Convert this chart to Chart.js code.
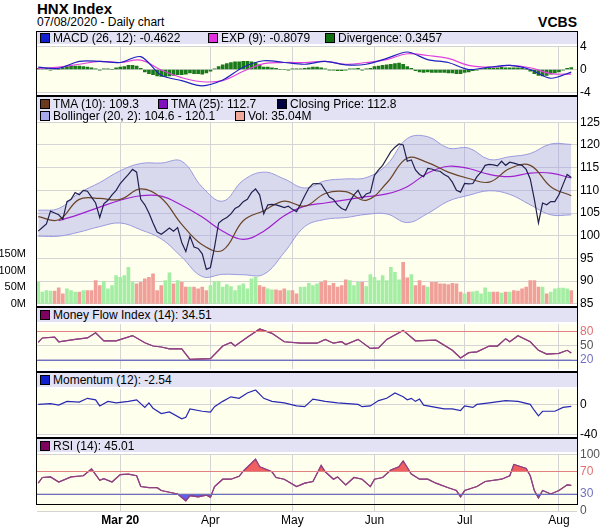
<!DOCTYPE html>
<html><head><meta charset="utf-8">
<script src="https://cdn.jsdelivr.net/npm/chart.js@4/dist/chart.umd.min.js"></script>
<style>
body{margin:0;background:#fff;font-family:"Liberation Sans",Arial,sans-serif;width:603px;height:531px;position:relative;overflow:hidden}
canvas{position:absolute;left:0}
.t{position:absolute;white-space:nowrap}
.strip{position:absolute;left:37px;width:540px;background:#e2e2f4;font-size:12px;color:#000;z-index:3}
.it{position:absolute;white-space:nowrap}
.sw{display:inline-block;width:8px;height:8px;border:1px solid #000;margin-right:3px;vertical-align:-1px}
.sep{position:absolute;left:37px;width:541px;height:2px;background:#000;z-index:4}
</style></head><body>
<div class="t" style="left:37px;top:0px;font-weight:bold;font-size:15px">HNX Index</div>
<div class="t" style="left:37px;top:15px;font-size:12px">07/08/2020 - Daily chart</div>
<div class="t" style="right:26px;top:14px;font-weight:bold;font-size:14px">VCBS</div>
<div id="box" style="position:absolute;left:36px;top:31px;width:540px;height:472px;border:1px solid #000;z-index:4;pointer-events:none"></div>
<div class="sep" style="top:95px"></div><div class="sep" style="top:306px"></div><div class="sep" style="top:371px"></div><div class="sep" style="top:437px"></div>
<div class="strip" style="top:32px;height:12px">
 <span class="it" style="left:3px;top:-1px"><span class="sw" style="background:#1020d0"></span>MACD (26, 12): -0.4622</span>
 <span class="it" style="left:171px;top:-1px"><span class="sw" style="background:#e030e0"></span>EXP (9): -0.8079</span>
 <span class="it" style="left:288px;top:-1px"><span class="sw" style="background:#107010"></span>Divergence: 0.3457</span>
</div>
<div class="strip" style="top:97px;height:23px">
 <span class="it" style="left:3px;top:0px"><span class="sw" style="background:#6b3a1e"></span>TMA (10): 109.3</span>
 <span class="it" style="left:121px;top:0px"><span class="sw" style="background:#8010c0"></span>TMA (25): 112.7</span>
 <span class="it" style="left:240px;top:0px"><span class="sw" style="background:#000040"></span>Closing Price: 112.8</span>
 <span class="it" style="left:3px;top:12px"><span class="sw" style="background:#a8a8ec"></span>Bollinger (20, 2): 104.6 - 120.1</span>
 <span class="it" style="left:198px;top:12px"><span class="sw" style="background:#f0a898"></span>Vol: 35.04M</span>
</div>
<div class="strip" style="top:308px;height:14px"><span class="it" style="left:3px;top:0px"><span class="sw" style="background:#800060"></span>Money Flow Index (14): 34.51</span></div>
<div class="strip" style="top:373px;height:14px"><span class="it" style="left:3px;top:0px"><span class="sw" style="background:#1020d0"></span>Momentum (12): -2.54</span></div>
<div class="strip" style="top:439px;height:13px"><span class="it" style="left:3px;top:0px"><span class="sw" style="background:#800060"></span>RSI (14): 45.01</span></div>

<canvas id="c1"></canvas><canvas id="c2"></canvas><canvas id="c3"></canvas><canvas id="c4"></canvas><canvas id="c5"></canvas>
<script>
const monthIdx=[20,42,62,82,104,127];
const monthLabels=["Mar 20","Apr","May","Jun","Jul","Aug"];
const closePrice=[101,101.8,102.6,105.4,105,104.6,103.6,107.5,108,109.5,109,110,109.8,108.5,107.2,104,107,107.8,109,110,111.5,112.5,113.5,114.6,114,108,106.8,105,102.8,100.8,100.3,101,101.7,101,101.8,98.5,96.5,99.9,97.5,97.2,96,92.6,93,97.5,102.8,103.5,104,104.8,106,106.5,107.5,108,109.5,110.3,109,104.8,106.8,106.9,106.8,106.5,106.2,106.5,105.8,105.3,107,108.8,110.5,111.4,111.5,111.4,110,108.5,108,106.8,106,105.6,107.5,109,110,108.2,109.2,109.5,113.3,114.5,115.5,117,118.5,119.5,120.2,120,116.4,116.7,114.5,113.5,113,114.8,114.7,114.3,114.2,113.5,113,111.8,110,109.6,111.5,111.4,111.5,113,114,115.5,115.7,115.6,115.4,116.4,115.5,116.2,116,115.7,115.5,114.6,112.5,108,102.8,107.2,106.8,107.5,107.5,109,111.3,113.5,112.8];
const volumeM=[65,35,40,38,38,48,30,45,40,35,35,40,40,40,70,55,68,45,55,85,80,85,110,65,60,65,75,80,90,40,55,70,93,60,70,65,50,50,50,45,50,40,55,68,68,50,58,52,40,55,60,45,75,80,55,50,45,42,42,40,45,40,40,30,50,50,62,55,60,65,70,55,62,50,55,72,70,55,65,65,52,88,80,70,85,70,110,95,72,125,78,88,55,70,55,50,65,65,60,60,58,62,60,35,30,35,36,38,30,48,35,35,35,32,35,35,40,38,45,50,70,70,50,50,30,35,45,47,47,45,40];
// sampled every 5 trading days
const tma10=[104.2,103.5,108,108.2,108,110.3,108.3,102.5,98,96.8,103.3,105.5,107.6,106.5,109.3,109.7,107.8,111.6,117.1,116.1,114,112.6,111.8,114.8,115.5,110.8,108.8];
const tma25=[null,103.3,104.7,106.3,107.8,108.8,108.7,106.7,104.1,101,99.2,101,104.4,106.5,107.2,107.9,108.6,109.2,110.8,113.8,115.3,114.8,113.5,113,113.8,113.8,112.7];
const bollUpper=[105.6,106,109.4,111.7,114.3,115.9,116,116.4,110.7,107.6,112.2,114,112.5,110.5,112.1,112.5,112.8,115.6,121.4,121.8,119.3,119.3,116.8,117.4,118.1,120.2,120.1];
const bollLower=[99.9,99.9,100.8,102,102.8,101.3,99.3,95.3,91,91.5,91.4,91.5,96.3,102,103.6,104,104.7,104.8,102.9,104.9,107.6,108.9,109.9,109.1,106.8,104.6,104.6];
const macd=[0.4,0.2,1.4,1.4,1.2,2.2,-1.0,-1.9,-2.8,-1.8,0.4,1.5,1.2,0.9,1.4,0.8,0.9,1.9,3.0,1.7,1.2,0.0,0.4,0.7,0.0,-1.5,-0.46];
const expSignal=[0.2,0.4,0.9,1.4,1.2,1.6,-0.1,-1.4,-2.1,-1.9,-0.3,1.0,1.2,1.2,1.4,0.9,1.2,1.7,2.7,2.4,1.9,0.7,0.4,0.7,0.3,-0.7,-0.8];
const divergence=[0.2,0.1,0.2,-0.1,0.1,0.0,0.3,0.5,0.6,0.6,0.6,0.5,0.4,0.3,0.1,-0.1,0.1,0.1,0.0,0.3,0.4,0.5,0.7,0.7,0.6,0.2,-0.4,-0.7,-0.9,-1.1,-1.2,-1.2,-1.1,-1.0,-0.9,-0.9,-0.8,-0.6,-0.7,-0.7,-0.8,-0.6,-0.3,0.1,0.5,0.8,1.0,1.2,1.3,1.3,1.4,1.4,1.3,1.2,0.8,0.4,0.4,0.3,0.2,0.0,0.0,-0.1,0.1,0.1,0.1,0.2,0.3,0.4,0.4,0.3,0.1,-0.1,-0.1,-0.2,-0.2,-0.1,0.1,0.1,0.2,-0.1,0.1,0.2,0.5,0.6,0.7,0.8,0.9,1.0,1.1,0.9,0.5,0.2,-0.2,-0.4,-0.5,-0.4,-0.5,-0.5,-0.5,-0.5,-0.6,-0.6,-0.7,-0.7,-0.5,-0.4,-0.2,-0.1,0.1,0.2,0.3,0.3,0.3,0.4,0.3,0.3,0.3,0.3,0.2,0.0,-0.3,-0.7,-1.0,-1.1,-1.0,-0.8,-0.6,-0.4,-0.1,0.2,0.35];
const mfiPts=[[0,56.5],[1,66],[4,67.6],[5,58],[9,63],[12,66],[14,77],[16,60],[19,60],[23,71],[26,56],[28,49],[30,47],[32,43],[35,43],[37,21],[42,22.5],[45,49],[47,56.5],[48,49],[51,67.6],[54,85],[57,75.7],[60,58],[64,55],[68,55],[70,63],[72,55],[74,58],[75,52],[78,63],[81,44],[83,45],[85,63],[89,82],[92,60],[97,61.4],[101,40],[103,24],[105,35],[107,36.7],[110,49],[112,49],[114,64.5],[115,58],[117,70.7],[120,58],[122,40],[124,32],[127,33.6],[129,40],[130,34.5]];
const momPts=[[0,0],[3,1],[5,-1],[7,4],[10,3],[12,8],[14,6],[15,-2],[17,4],[19,2],[22,4],[24,6],[26,-4],[27,2],[28,-5],[30,-12],[32,-10],[35,-19],[36,-17],[37,-6],[40,-9],[42,-10],[43,-3],[45,4],[47,10],[49,8],[51,15],[53,19],[55,8],[57,4],[60,2],[63,-2],[65,-3],[67,7],[70,4],[73,2],[78,0],[79,-3],[81,-2],[83,5],[85,8],[87,15],[89,10],[90,6],[91,8],[92,4],[93,7],[94,-1],[99,-6],[101,-6],[103,-8],[104,-2],[106,-4],[107,0],[110,2],[114,5],[117,4],[120,0],[121,-8],[122,-15],[123,-9],[126,-9],[128,-4],[130,-2.54]];
const rsiPts=[[0,49],[1,59],[3,60],[5,51],[8,60],[11,62],[13,74],[15,54],[16,57],[18,51],[20,64],[22,65],[24,62],[25,43],[27,41],[29,41],[30,36],[32,33],[34,30],[36,18],[37,27],[39,25],[41,28],[42,24],[43,43],[45,56],[47,56],[49,61],[50,70],[53,91],[54,78],[57,69],[58,59],[60,56],[63,43],[65,49],[67,52],[69,80],[70,69],[72,56],[73,60],[75,46],[77,59],[79,56],[81,43],[82,56],[84,59],[86,72],[88,78],[89,88],[91,65],[93,56],[95,56],[97,49],[100,41],[102,36],[103,25],[104,36],[107,43],[109,52],[113,56],[115,62],[116,82],[119,75],[120,62],[121,36],[122,23],[123,36],[125,30],[127,36],[129,46],[130,45.01]];

const FONT='"Liberation Sans", Arial, sans-serif';
Chart.defaults.font.family=FONT;Chart.defaults.font.size=12;Chart.defaults.color='#000';
Chart.defaults.animation=false;
const GRID='#d4d4d4';
const bgPlugin={id:'bg',beforeDraw(c){const a=c.chartArea,x=c.ctx;x.save();x.fillStyle='#ffffee';x.fillRect(a.left,a.top,a.right-a.left,a.bottom-a.top);x.restore();}};
const hl=(lines)=>({id:'hl',afterDatasetsDraw(c){const a=c.chartArea,x=c.ctx,s=c.scales.y;x.save();lines.forEach(([v,col])=>{const p=Math.round(s.getPixelForValue(v))+0.5;x.strokeStyle=col;x.lineWidth=1;x.beginPath();x.moveTo(a.left,p);x.lineTo(a.right,p);x.stroke();});x.restore();}});
const sample=a=>a.map((v,i)=>({x:i*5,y:v}));
const pts=a=>a.map(p=>({x:p[0],y:p[1]}));
const PAD=8;
function xScale(showTicks){return {type:'linear',offset:false,min:-0.3,max:131.4,afterBuildTicks(s){s.ticks=monthIdx.map(v=>({value:v}));},
 ticks:{display:showTicks,autoSkip:false,maxRotation:0,padding:2,callback:(v)=>monthLabels[monthIdx.indexOf(v)],
  font:(ctx)=>({family:FONT,size:12,weight:ctx.index===0?'bold':'normal'})},
 grid:{color:GRID,drawTicks:false,offset:false},border:{display:false},afterFit(s){s.height=showTicks?20:0;}};}
function yRight(min,max,ticks,colorFn){return {position:'right',min,max,afterBuildTicks(s){s.ticks=ticks.map(v=>({value:v}));},
 ticks:{padding:3,color:colorFn||'#000',font:{size:12}},grid:{color:GRID,drawTicks:false},border:{display:false},afterFit(s){s.width=26;}};}
function make(id,top,bottom,datasets,scales,plugins,bottomExtra){
 const cv=document.getElementById(id);const h=bottom-top+PAD*2+(bottomExtra||0);
 cv.style.top=(top-PAD)+'px';cv.style.width='603px';cv.style.height=h+'px';cv.width=603;cv.height=h;
 const hasLeft=!!scales.yv;
 return new Chart(cv,{type:'line',data:{datasets},options:{responsive:false,devicePixelRatio:1,
  layout:{padding:{top:PAD,bottom:bottomExtra?0:PAD,left:hasLeft?0:37,right:0}},
  plugins:{legend:{display:false},tooltip:{enabled:false}},elements:{point:{radius:0},line:{borderWidth:1.2,tension:0}},
  scales},plugins:[bgPlugin].concat(plugins||[])});
}
// MACD
make('c1',44,95,[
 {type:'bar',order:3,data:divergence.map((v,i)=>({x:i,y:v})),backgroundColor:'#1a7a1a',barThickness:3},
 {order:2,data:sample(expSignal),borderColor:'#e040e0',tension:0.4},
 {order:1,data:sample(macd),borderColor:'#2020c0',tension:0.3}
],{x:xScale(false),y:yRight(-4,4,[-4,-2,0,2,4])});
// Main
const volColors=volumeM.map((v,i)=>i>0&&closePrice[i]<closePrice[i-1]?'#f0a098':'#a4eea4');
make('c2',120,306,[
 {order:6,data:sample(bollUpper),borderColor:'#9a9ae0',borderWidth:1,backgroundColor:'rgba(160,160,235,0.4)',fill:'+1',tension:0.4,yAxisID:'y'},
 {order:5,data:sample(bollLower),borderColor:'#9a9ae0',borderWidth:1,tension:0.4,yAxisID:'y'},
 {order:4,type:'bar',data:volumeM.map((v,i)=>({x:i,y:v})),backgroundColor:volColors,barThickness:3,yAxisID:'yv'},
 {order:3,data:sample(tma25),borderColor:'#a020d0',tension:0.4,yAxisID:'y'},
 {order:2,data:sample(tma10),borderColor:'#6a4428',tension:0.4,yAxisID:'y'},
 {order:1,data:closePrice.map((v,i)=>({x:i,y:v})),borderColor:'#202050',borderWidth:1.2,yAxisID:'y'}
],{x:xScale(false),y:yRight(85,125,[85,90,95,100,105,110,115,120,125]),
 yv:{position:'left',min:0,max:547,afterBuildTicks(s){s.ticks=[0,50,100,150].map(v=>({value:v}));},
  ticks:{padding:3,font:{size:11},callback:v=>v+'M'},grid:{display:false},border:{display:false},afterFit(s){s.width=37;}}});
// MFI
const tc=(a,b)=>(c)=>c.tick.value===a?'#e07070':(c.tick.value===b?'#7070c0':'#555');
make('c3',322,371,[
 {data:pts(mfiPts),borderColor:'#904080',fill:{target:{value:80},above:'#f06060',below:'rgba(0,0,0,0)'}},
 {data:pts(mfiPts),borderColor:'#904080',fill:{target:{value:20},above:'rgba(0,0,0,0)',below:'#6060f0'}}
],{x:xScale(false),y:yRight(1,95,[20,50,80],tc(80,20))},[hl([[80,'#e08080'],[20,'#7070c0']])]);
// Momentum
make('c4',387,437,[
 {data:pts(momPts),borderColor:'#2828b0'}
],{x:xScale(false),y:yRight(-40,20,[-40,-20,0,20])});
// RSI
make('c5',452,503,[
 {data:pts(rsiPts),borderColor:'#904080',fill:{target:{value:70},above:'#f06060',below:'rgba(0,0,0,0)'}},
 {data:pts(rsiPts),borderColor:'#904080',fill:{target:{value:30},above:'rgba(0,0,0,0)',below:'#6060f0'}}
],{x:xScale(true),y:yRight(0,100,[0,30,70,100],tc(70,30))},[hl([[70,'#e08080'],[30,'#7070c0']])],20);
</script></body></html>
